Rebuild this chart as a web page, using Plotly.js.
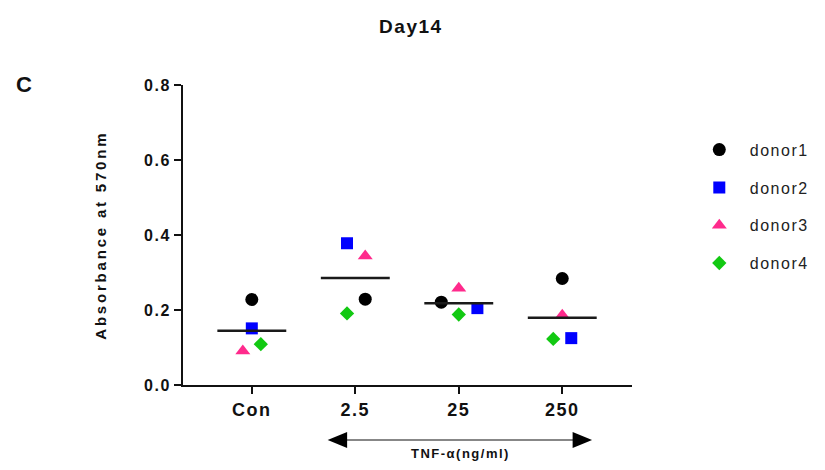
<!DOCTYPE html>
<html>
<head>
<meta charset="utf-8">
<script src="https://cdn.plot.ly/plotly-3.0.1.min.js"></script>
<style>
  html, body { margin: 0; padding: 0; background: #fff; }
  #chart { width: 825px; height: 470px; }
  svg text { letter-spacing: 1.5px; }
</style>
</head>
<body>
<div id="chart"></div>
<script>
// ---- data ----
const categories = ["Con", "2.5", "25", "250"];
const donorNames = ["donor1", "donor2", "donor3", "donor4"];
const donor1 = [0.228, 0.229, 0.221, 0.284];
const donor2 = [0.151, 0.378, 0.205, 0.125];
const donor3 = [0.091, 0.344, 0.258, 0.186];
const donor4 = [0.109, 0.191, 0.188, 0.123];
// horizontal scatter offsets (category units), as placed in the figure
const offset1 = [0, 0.096, -0.169, 0];
const offset2 = [0, -0.080, 0.180, 0.087];
const offset3 = [-0.087, 0.096, 0, 0];
const offset4 = [0.087, -0.080, 0, -0.087];

const series = [donor1, donor2, donor3, donor4];
const offsets = [offset1, offset2, offset3, offset4];
const symbols = ["circle", "square", "triangle-up", "diamond"];
const colors = ["#000000", "#0000ff", "#ff2a8c", "#12c912"];
const sizes = [13, 12, 13, 11];

const idx = categories.map((c, i) => i);
const traces = series.map((vals, k) => ({
  type: "scatter",
  mode: "markers",
  name: donorNames[k],
  legendgroup: donorNames[k],
  x: idx.map(i => i + offsets[k][i]),
  y: vals,
  marker: { symbol: symbols[k], color: colors[k], size: sizes[k], line: { width: 0 } },
  hoverinfo: "y+name"
}));

// mean lines
const mx = [], my = [];
idx.forEach(i => {
  const m = series.reduce((s, v) => s + v[i], 0) / series.length;
  mx.push(i - 0.333, i + 0.333, null);
  my.push(m, m, null);
});
traces.push({
  type: "scatter", mode: "lines", x: mx, y: my,
  line: { color: "#1a1a1a", width: 2.5 }, showlegend: false, hoverinfo: "skip"
});

const font = "Arial, 'Liberation Sans', sans-serif";

const layout = {
  width: 825, height: 470,
  margin: { l: 183, r: 192, t: 85, b: 85 },
  paper_bgcolor: "#fff", plot_bgcolor: "#fff",
  font: { family: font, color: "#000" },
  title: {
    text: "<b>Day14</b>", font: { size: 19, family: font, color: "#111" },
    xref: "container", yref: "container", x: 0.498, y: 0.943, xanchor: "center", yanchor: "middle"
  },
  xaxis: {
    range: [-0.665, 3.674],
    tickvals: idx, ticktext: categories.map(c => "<b>" + c + "</b>"),
    showgrid: false, zeroline: false,
    showline: true, linecolor: "#111", linewidth: 2,
    ticks: "outside", ticklen: 7, tickwidth: 2, tickcolor: "#111",
    tickfont: { size: 18, family: font, color: "#111" },
    fixedrange: true
  },
  yaxis: {
    range: [0, 0.8],
    tickvals: [0, 0.2, 0.4, 0.6, 0.8],
    ticktext: ["<b>0.0</b>", "<b>0.2</b>", "<b>0.4</b>", "<b>0.6</b>", "<b>0.8</b>"],
    showgrid: false, zeroline: false,
    showline: true, linecolor: "#111", linewidth: 2,
    ticks: "outside", ticklen: 7, tickwidth: 2, tickcolor: "#111",
    tickfont: { size: 16, family: font, color: "#111" },
    fixedrange: true
  },
  legend: {
    x: 1.124, xanchor: "left", y: 0.841, yanchor: "top",
    font: { size: 16, family: font, color: "#222" },
    itemwidth: 51,
    tracegroupgap: 14, bgcolor: "rgba(0,0,0,0)", itemclick: false
  },
  annotations: [
    { text: "<b>C</b>", xref: "paper", yref: "paper", x: -0.353, y: 1.003,
      showarrow: false, font: { size: 22, family: font, color: "#111" }, xanchor: "center", yanchor: "middle" },
    { text: "<b>Absorbance at 570nm</b>", xref: "paper", yref: "paper", x: -0.184, y: 0.5,
      textangle: -90, showarrow: false, font: { size: 15, family: font, color: "#111" },
      xanchor: "center", yanchor: "middle" },
    { text: "<b>TNF-α(ng/ml)</b>", xref: "paper", yref: "paper", x: 0.617, y: -0.227,
      showarrow: false, font: { size: 13, family: font, color: "#111" }, xanchor: "center", yanchor: "middle" }
  ],
  shapes: [
    { type: "line", xref: "paper", yref: "paper", x0: 0.36, x1: 0.87, y0: -0.1833, y1: -0.1833,
      line: { color: "#111", width: 1.2 } },
    { type: "path", xref: "paper", yref: "paper",
      path: "M 0.3222 -0.1833 L 0.3656 -0.1567 L 0.3656 -0.21 Z",
      fillcolor: "#000", line: { color: "#000", width: 0 } },
    { type: "path", xref: "paper", yref: "paper",
      path: "M 0.9111 -0.1833 L 0.8678 -0.1567 L 0.8678 -0.21 Z",
      fillcolor: "#000", line: { color: "#000", width: 0 } }
  ],
  showlegend: true
};

Plotly.newPlot("chart", traces, layout, { displayModeBar: false, staticPlot: true }).then(() => {
  document.querySelectorAll(".annotation-text").forEach(t => {
    if (t.textContent.indexOf("Absorbance") === 0) t.style.letterSpacing = "2.8px";
  });
});
</script>
</body>
</html>
